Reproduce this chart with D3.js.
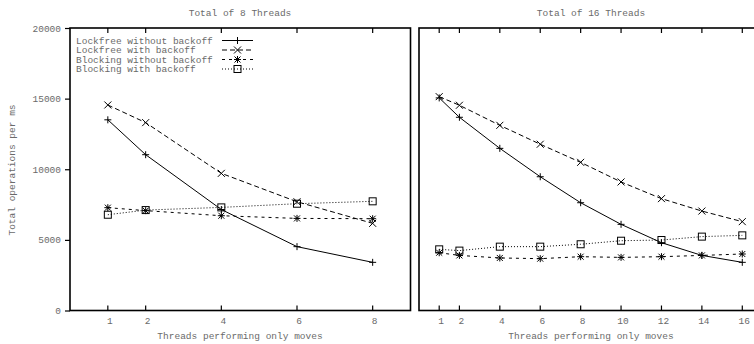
<!DOCTYPE html>
<html>
<head>
<meta charset="utf-8">
<script src="https://cdn.jsdelivr.net/npm/d3@7"></script>
<style>
  body { margin: 0; background: #fff; }
  text { font-family: "Liberation Mono", "DejaVu Sans Mono", monospace; fill: #6a6a6a; }
</style>
</head>
<body>
<div id="chart"></div>
<script>
const seriesNames = ["Lockfree without backoff", "Lockfree with backoff", "Blocking without backoff", "Blocking with backoff"];

const threads8 = [1, 2, 4, 6, 8];
const lockfreeNo8 = [13500, 11030, 7150, 4520, 3410];
const lockfreeBo8 = [14550, 13300, 9710, 7700, 6170];
const blockingNo8 = [7280, 7070, 6710, 6520, 6500];
const blockingBo8 = [6780, 7110, 7300, 7560, 7730];

const threads16 = [1, 2, 4, 6, 8, 10, 12, 14, 16];
const lockfreeNo16 = [15050, 13680, 11480, 9470, 7630, 6100, 4800, 3900, 3410];
const lockfreeBo16 = [15140, 14530, 13110, 11770, 10490, 9100, 7920, 7040, 6290];
const blockingNo16 = [4090, 3900, 3720, 3670, 3810, 3760, 3810, 3900, 4000];
const blockingBo16 = [4330, 4240, 4520, 4520, 4690, 4940, 4990, 5230, 5320];

const yTicks = [0, 5000, 10000, 15000, 20000];

const W = 754, H = 344;
const svg = d3.select("#chart").append("svg")
  .attr("width", W).attr("height", H);

const styles = [
  { dash: null, marker: "plus" },
  { dash: "5,3", marker: "cross" },
  { dash: "3,4", marker: "star" },
  { dash: "1,2", marker: "box" }
];

function drawMarker(g, type, cx, cy) {
  const s = 3.5;
  const m = g.append("g").attr("transform", `translate(${cx},${cy})`)
    .attr("stroke", "#000").attr("stroke-width", 1).attr("fill", "none");
  if (type === "plus" || type === "star") {
    m.append("path").attr("d", `M${-s},0H${s}M0,${-s}V${s}`);
  }
  if (type === "cross" || type === "star") {
    const t = type === "star" ? 3 : s;
    m.append("path").attr("d", `M${-t},${-t}L${t},${t}M${-t},${t}L${t},${-t}`);
  }
  if (type === "box") {
    m.append("rect").attr("x", -s).attr("y", -s).attr("width", 2 * s).attr("height", 2 * s);
  }
}

const y = d3.scaleLinear().domain([0, 20000]).range([310.5, 28]);

function panel(opts) {
  const x = d3.scaleLinear().domain(opts.domain).range(opts.range);
  const g = svg.append("g");

  // frame
  g.append("rect")
    .attr("x", x.range()[0]).attr("y", y(20000))
    .attr("width", x.range()[1] - x.range()[0])
    .attr("height", y(0) - y(20000))
    .attr("fill", "none").attr("stroke", "#000").attr("stroke-width", 1.6);

  // x ticks bottom and top (inward)
  opts.xs.forEach(v => {
    g.append("line").attr("x1", x(v)).attr("x2", x(v))
      .attr("y1", y(0)).attr("y2", y(0) - 5).attr("stroke", "#000").attr("stroke-width", 1.2);
    g.append("line").attr("x1", x(v)).attr("x2", x(v))
      .attr("y1", y(20000)).attr("y2", y(20000) + 5).attr("stroke", "#000").attr("stroke-width", 1.2);
    g.append("text").attr("x", x(v) + 2).attr("y", y(0) + 13)
      .attr("text-anchor", "middle").style("font-size", "9.5px").text(v);
  });

  if (opts.yLabels) {
    const yAxis = d3.axisLeft(y).tickValues(yTicks).tickFormat(d3.format("d"))
      .tickSize(5).tickPadding(4);
    const ya = g.append("g").attr("transform", `translate(${x.range()[0]},0)`).call(yAxis);
    ya.select(".domain").remove();
    ya.selectAll("line").attr("stroke", "#000").attr("stroke-width", 1.2);
    ya.selectAll("text").style("font-size", "9.5px")
      .style("font-family", '"Liberation Mono", monospace').attr("fill", "#6a6a6a");
  }

  g.append("text").attr("x", opts.center).attr("y", 16)
    .attr("text-anchor", "middle").style("font-size", "9.5px").text(opts.title);
  g.append("text").attr("x", opts.center).attr("y", 339)
    .attr("text-anchor", "middle").style("font-size", "9.5px").text("Threads performing only moves");

  const line = d3.line().x(d => x(d[0])).y(d => y(d[1]));
  opts.series.forEach((vals, i) => {
    const pts = opts.xs.map((v, j) => [v, vals[j]]);
    g.append("path").attr("d", line(pts))
      .attr("fill", "none").attr("stroke", "#000").attr("stroke-width", 1)
      .attr("stroke-dasharray", styles[i].dash);
    pts.forEach(p => drawMarker(g, styles[i].marker, x(p[0]), y(p[1])));
  });
}

panel({
  domain: [0, 9], range: [70, 410.5], xs: threads8,
  series: [lockfreeNo8, lockfreeBo8, blockingNo8, blockingBo8],
  title: "Total of 8 Threads", center: 240, yLabels: true
});

panel({
  domain: [0, 17], range: [419, 762.5], xs: threads16,
  series: [lockfreeNo16, lockfreeBo16, blockingNo16, blockingBo16],
  title: "Total of 16 Threads", center: 591, yLabels: false
});

// y axis title
svg.append("text")
  .attr("transform", "translate(15,170) rotate(-90)")
  .attr("text-anchor", "middle").style("font-size", "9.5px")
  .text("Total operations per ms");

// legend
const legend = svg.append("g");
seriesNames.forEach((name, i) => {
  const ly = 40.5 + i * 9.5;
  legend.append("text").attr("x", 76).attr("y", ly + 3)
    .style("font-size", "9.5px").text(name);
  legend.append("line").attr("x1", 222).attr("x2", 253)
    .attr("y1", ly).attr("y2", ly)
    .attr("stroke", "#000").attr("stroke-width", 1)
    .attr("stroke-dasharray", styles[i].dash);
  drawMarker(legend, styles[i].marker, 237.5, ly);
});
</script>
</body>
</html>
